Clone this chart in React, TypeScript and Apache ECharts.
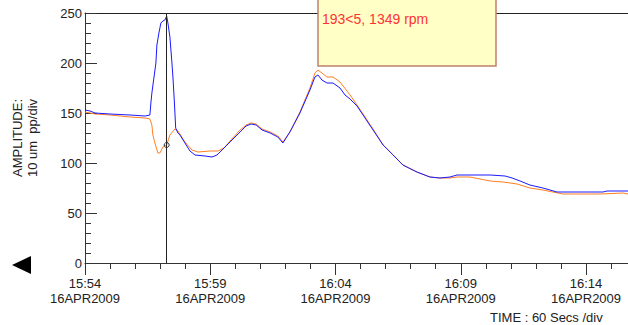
import React, { useEffect, useRef } from "react";
import * as echarts from "echarts";

// minutes after 15:54 on 16APR2009
const blueTimes = [0.0, 0.2, 0.4, 1.0, 1.8, 2.4, 2.59, 2.63, 2.67, 2.75, 2.83, 2.87, 2.95, 3.03, 3.11, 3.19, 3.26, 3.31, 3.39, 3.47, 3.51, 3.57, 3.62, 3.71, 3.79, 3.99, 4.19, 4.39, 4.79, 5.07, 5.27, 5.47, 5.79, 6.19, 6.43, 6.63, 6.83, 7.07, 7.39, 7.7, 7.9, 8.18, 8.58, 8.98, 9.18, 9.3, 9.46, 9.66, 9.9, 10.18, 10.38, 10.58, 10.86, 11.1, 11.5, 11.9, 12.3, 12.69, 13.25, 13.77, 14.17, 14.57, 14.85, 15.37, 16.17, 16.77, 17.05, 17.37, 17.76, 18.28, 18.84, 19.76, 20.68, 20.84, 21.68];
const blueValues = [153, 152, 150, 149, 148, 147, 148, 160, 170, 185, 200, 218, 230, 240, 242, 243, 247, 240, 226, 200, 186, 160, 135, 130, 128, 120, 112, 108, 107, 106, 108, 113, 121, 131, 137, 139, 138, 133, 130, 126, 120, 131, 150, 173, 186, 188, 183, 180, 180, 175, 168, 164, 157, 148, 133, 118, 108, 98, 91, 86, 85, 86, 88, 88, 88, 87, 85, 82, 78, 75, 71, 71, 71, 72, 72];

const orangeTimes = [0.0, 0.4, 1.0, 1.8, 2.4, 2.59, 2.67, 2.71, 2.79, 2.91, 2.99, 3.11, 3.26, 3.39, 3.59, 3.71, 3.99, 4.27, 4.51, 4.99, 5.31, 5.55, 5.79, 6.19, 6.43, 6.63, 6.83, 7.07, 7.39, 7.7, 7.9, 8.18, 8.58, 8.98, 9.18, 9.3, 9.46, 9.66, 9.9, 10.18, 10.46, 10.58, 10.86, 11.1, 11.5, 11.9, 12.3, 12.69, 13.25, 13.77, 14.17, 14.57, 14.85, 15.37, 16.17, 16.69, 17.25, 17.76, 18.28, 19.08, 20.56, 21.48, 21.68];
const orangeValues = [151, 149, 148, 146, 145, 144, 138, 128, 120, 110, 110, 116, 118, 128, 134, 132, 121, 113, 111, 112, 112, 115, 122, 133, 138, 140, 139, 134, 131, 127, 121, 131, 151, 175, 190, 193, 190, 186, 186, 181, 172, 168, 158, 149, 134, 118, 108, 98, 91, 86, 85, 85, 86, 86, 82, 81, 79, 75, 73, 69, 69, 70, 69];

const startMinuteOfDay = 15 * 60 + 54;
const dateLabel = "16APR2009";
const cursorTime = 3.26;
const cursorValue = 118;
const readoutText = "193<5, 1349 rpm";
const yAxisTitle = ["AMPLITUDE:", "10 um  pp/div"];
const xAxisTitle = "TIME : 60 Secs /div";

const FONT = "Liberation Sans, Arial, sans-serif";

function fmtTime(v: number): string {
  const total = Math.round(startMinuteOfDay + v);
  const h = Math.floor(total / 60);
  const m = total % 60;
  return `${h}:${m < 10 ? "0" + m : m}`;
}

export default function App() {
  const ref = useRef<HTMLDivElement>(null);
  useEffect(() => {
    if (!ref.current) return;
    const chart = echarts.init(ref.current, null, { renderer: "svg" });
    const blueData = blueTimes.map((t, i) => [t, blueValues[i]]);
    const orangeData = orangeTimes.map((t, i) => [t, orangeValues[i]]);
    chart.setOption({
      animation: false,
      backgroundColor: "#ffffff",
      grid: { left: 85, top: 13, width: 626.25, height: 250, containLabel: false },
      xAxis: [
        {
          type: "value",
          min: 0,
          max: 25,
          interval: 5,
          axisLine: { show: true, lineStyle: { color: "#333", width: 1 } },
          axisTick: { show: true, length: 12, lineStyle: { color: "#333" } },
          minorTick: { show: true, splitNumber: 5, length: 6, lineStyle: { color: "#333" } },
          splitLine: { show: false },
          axisLabel: {
            margin: 13,
            color: "#222",
            fontFamily: FONT,
            fontSize: 13,
            lineHeight: 15,
            showMaxLabel: false,
            formatter: (v: number) => `${fmtTime(v)}\n${dateLabel}`,
          },
        },
        {
          type: "value",
          position: "top",
          min: 0,
          max: 25,
          interval: 5,
          axisLine: { show: true, onZero: false, lineStyle: { color: "#222", width: 1 } },
          axisTick: { show: false },
          axisLabel: { show: false },
          splitLine: { show: false },
        },
      ],
      yAxis: {
        type: "value",
        min: 0,
        max: 250,
        interval: 50,
        axisLine: { show: true, lineStyle: { color: "#333", width: 1 } },
        axisTick: { show: true, inside: true, length: 12, lineStyle: { color: "#333" } },
        minorTick: { show: true, splitNumber: 5, length: 6, lineStyle: { color: "#333" } },
        splitLine: { show: false },
        axisLabel: { margin: 3, color: "#222", fontFamily: FONT, fontSize: 13 },
      },
      series: [
        {
          type: "line",
          name: "orange",
          data: orangeData,
          showSymbol: false,
          symbol: "none",
          lineStyle: { color: "#ff7f22", width: 1 },
          markPoint: {
            silent: true,
            symbol: "circle",
            symbolSize: 5,
            itemStyle: { color: "rgba(0,0,0,0)", borderColor: "#333", borderWidth: 1 },
            label: { show: false },
            data: [{ coord: [cursorTime, cursorValue] }],
          },
        },
        {
          type: "line",
          name: "blue",
          data: blueData,
          showSymbol: false,
          symbol: "none",
          lineStyle: { color: "#1a1aff", width: 1 },
          markLine: {
            silent: true,
            symbol: ["none", "none"],
            label: { show: false },
            lineStyle: { color: "#222", width: 1, type: "solid" },
            data: [{ xAxis: cursorTime }],
          },
        },
      ],
      graphic: [
        {
          type: "rect",
          shape: { x: 318, y: -2, width: 178, height: 68 },
          style: { fill: "#ffffc6", stroke: "#c0806c", lineWidth: 1.5 },
          z: 100,
        },
        {
          type: "text",
          x: 322,
          y: 19,
          style: { text: readoutText, fill: "#ff3333", font: `14px ${FONT}`, textAlign: "left", textVerticalAlign: "middle" },
          z: 101,
        },
        {
          type: "text",
          x: 17,
          y: 138,
          rotation: Math.PI / 2,
          style: { text: yAxisTitle[0], fill: "#222", font: `13px ${FONT}`, textAlign: "center", textVerticalAlign: "middle" },
        },
        {
          type: "text",
          x: 32,
          y: 138,
          rotation: Math.PI / 2,
          style: { text: yAxisTitle[1], fill: "#222", font: `13px ${FONT}`, textAlign: "center", textVerticalAlign: "middle" },
        },
        {
          type: "text",
          x: 490,
          y: 317,
          style: { text: xAxisTitle, fill: "#222", font: `13px ${FONT}`, textAlign: "left", textVerticalAlign: "middle" },
        },
        {
          type: "polygon",
          shape: { points: [[12, 265], [31, 256], [31, 274]] },
          style: { fill: "#000" },
        },
      ],
    });
    return () => chart.dispose();
  }, []);
  return (
    <div style={{ position: "fixed", left: 0, top: 0, width: 628, height: 325, overflow: "hidden" }}>
      <div ref={ref} style={{ width: 712, height: 325 }} />
    </div>
  );
}
